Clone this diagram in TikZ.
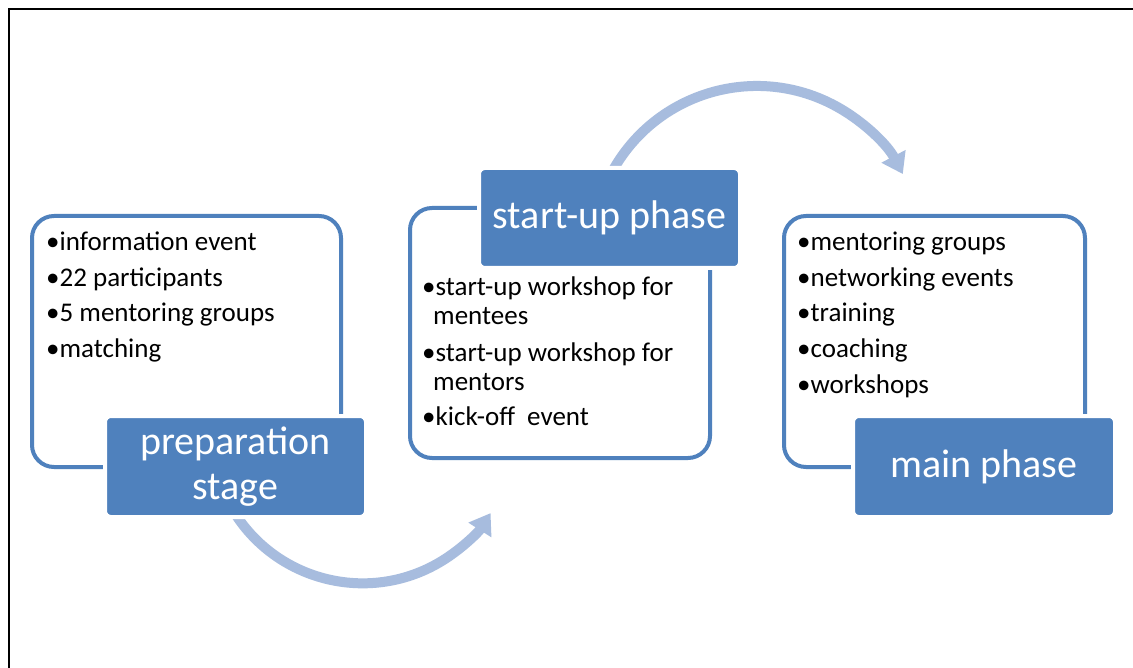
\documentclass[tikz,border=0pt]{standalone}
\usepackage{fontspec}
\setmainfont{Carlito}
\usetikzlibrary{arrows.meta}
\definecolor{boxblue}{RGB}{79,129,189}
\definecolor{arrowblue}{RGB}{167,188,222}
\tikzset{
  outline/.style={draw=boxblue, line width=4pt, rounded corners=22pt, fill=white, inner sep=0pt},
  titlebox/.style={draw=white, line width=4pt, rounded corners=6pt, fill=boxblue, text=white, inner sep=0pt, align=center, font=\fontsize{40}{45}\selectfont},
  item/.style={anchor=base west, inner sep=0pt, font=\fontsize{27}{32}\selectfont},
  flow/.style={draw=arrowblue, line width=10pt, -{Triangle[width=26pt,length=20pt]}},
}
\begin{document}
\begin{tikzpicture}[x=1pt,y=-1pt]
\useasboundingbox (0,0) rectangle (1133,668);
\fill[white] (0,0) rectangle (1133,668);
% frame
\draw[line width=2.2pt] (1133,9) -- (9,9) -- (9,668);

% arrows
\coordinate (a1s) at (234,512);
\draw[flow] (a1s) arc[start angle=148, end angle=32.5, radius=151.7];
\coordinate (a2s) at (612,172);
\draw[flow] (a2s) arc[start angle=-151.4, end angle=-27.8, radius=165];

% outline boxes
\node[outline, minimum width=309pt, minimum height=251pt] (prepbox) at (186.5,341.5) {};
\node[outline, minimum width=300pt, minimum height=250pt] (startbox) at (560,333) {};
\node[outline, minimum width=301pt, minimum height=251pt] (mainbox) at (934.5,341.5) {};

% title boxes
\node[titlebox, minimum width=261pt, minimum height=101pt] (prep) at (235.5,466.5) {preparation\\stage};
\node[titlebox, minimum width=261pt, minimum height=100pt] (start) at (609.5,218) {start-up phase};
\node[titlebox, minimum width=262pt, minimum height=101pt] (main) at (984,466.5) {main phase};

% left items
\node[item] (p1) at (46,251) {•information event};
\node[item] (p2) at (46,286.5) {•22 participants};
\node[item] (p3) at (46,322) {•5 mentoring groups};
\node[item] (p4) at (46,357.5) {•matching};

% middle items
\node[item] (s1) at (422,296) {•start-up workshop for};
\node[item] (s1b) at (433,325) {mentees};
\node[item] (s2) at (422,361.5) {•start-up workshop for};
\node[item] (s2b) at (433,390.5) {mentors};
\node[item] (s3) at (422,425) {•kick-off\ \ event};

% right items
\node[item] (m1) at (797,251) {•mentoring groups};
\node[item] (m2) at (797,286.5) {•networking events};
\node[item] (m3) at (797,322) {•training};
\node[item] (m4) at (797,357.5) {•coaching};
\node[item] (m5) at (797,393) {•workshops};
\end{tikzpicture}
\end{document}
